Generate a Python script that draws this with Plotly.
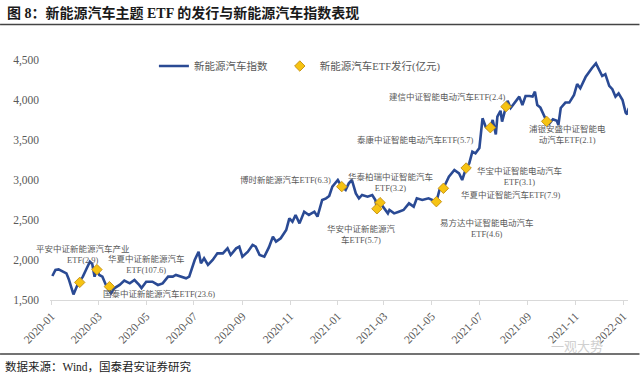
import plotly.graph_objects as go

# ---- data ----
index_dates = [
    "2020-01-02","2020-01-06","2020-01-10","2020-01-15","2020-01-20","2020-01-23","2020-01-29",
    "2020-02-04","2020-02-10","2020-02-15","2020-02-19","2020-02-22","2020-02-25","2020-02-28",
    "2020-03-02","2020-03-06","2020-03-11","2020-03-17","2020-03-21","2020-03-28","2020-04-03",
    "2020-04-10","2020-04-16","2020-04-22","2020-04-25","2020-05-01","2020-05-09","2020-05-16",
    "2020-05-22","2020-05-29","2020-06-04","2020-06-08","2020-06-15","2020-06-21","2020-06-25",
    "2020-07-02","2020-07-07","2020-07-10","2020-07-14","2020-07-19","2020-07-25","2020-07-31",
    "2020-08-07","2020-08-13","2020-08-17","2020-08-24","2020-08-28","2020-09-01","2020-09-08",
    "2020-09-14","2020-09-18","2020-09-23","2020-09-29","2020-10-05","2020-10-10","2020-10-14",
    "2020-10-20","2020-10-27","2020-10-31","2020-11-04","2020-11-08","2020-11-13","2020-11-19",
    "2020-11-25","2020-12-02","2020-12-06","2020-12-12","2020-12-17","2020-12-21","2020-12-25",
    "2021-01-01","2021-01-06","2021-01-11","2021-01-15","2021-01-19","2021-01-24","2021-01-28",
    "2021-02-01","2021-02-08","2021-02-14","2021-02-18","2021-02-20","2021-02-24","2021-03-01",
    "2021-03-06","2021-03-08","2021-03-14","2021-03-20","2021-03-26","2021-04-02","2021-04-08",
    "2021-04-12","2021-04-19","2021-04-27","2021-05-07","2021-05-11","2021-05-16","2021-05-23",
    "2021-05-30","2021-06-05","2021-06-09","2021-06-14","2021-06-18","2021-06-22","2021-06-26",
    "2021-07-01","2021-07-05","2021-07-09","2021-07-12","2021-07-15","2021-07-18","2021-07-22",
    "2021-07-24","2021-07-28","2021-07-30","2021-08-04","2021-08-06","2021-08-10","2021-08-17",
    "2021-08-21","2021-08-25","2021-08-29","2021-09-03","2021-09-07","2021-09-10","2021-09-13",
    "2021-09-17","2021-09-22","2021-09-25","2021-09-28","2021-10-03","2021-10-08","2021-10-10",
    "2021-10-13","2021-10-19","2021-10-24","2021-10-30","2021-11-03","2021-11-07","2021-11-14",
    "2021-11-18","2021-11-22","2021-11-27","2021-12-01","2021-12-05","2021-12-09","2021-12-14",
    "2021-12-18","2021-12-22","2021-12-26","2021-12-31","2022-01-04","2022-01-06","2022-01-08",
]
index_values = [
    1800,1875,1883,1855,1833,1760,1570,
    1708,1792,1896,1979,1950,1792,1875,
    1813,1792,1675,1583,1646,1688,1742,
    1708,1750,1688,1650,1729,1729,1688,
    1708,1792,1792,1813,1792,1771,1792,
    2000,2104,1958,2021,1938,2000,2083,
    2083,2146,2063,2146,2167,2042,2104,
    2188,2167,2063,2042,2160,2292,2229,
    2271,2375,2521,2479,2563,2458,2604,
    2563,2604,2542,2750,2771,2800,2917,
    3000,2917,2875,2958,3000,2833,2771,
    2813,2792,2813,2750,2640,2717,2646,
    2583,2625,2583,2604,2625,2708,2667,
    2771,2750,2771,2729,2875,2896,3042,
    3125,3083,3000,3150,3208,3354,3333,
    3400,3771,3667,3640,3654,3750,3570,
    3792,3865,3729,3917,3990,3900,4000,
    4042,3938,4050,4050,4042,4104,3938,
    3905,3800,3733,3700,3760,3740,3688,
    3900,3968,3968,4063,4200,4146,4292,
    4354,4400,4458,4385,4300,4323,4177,
    4135,4042,4083,4000,3843,3820,3900,
]

etf_dates = ["2020-02-06","2020-02-28","2020-03-15","2021-01-06","2021-02-24","2021-02-20",
             "2021-05-07","2021-05-16","2021-06-14","2021-07-15","2021-08-04","2021-09-25"]
etf_values = [1720,1880,1667,2917,2717,2640,2729,2896,3150,3654,3917,3733]

label_texts = [
    "平安中证新能源汽车产业<br>ETF(2.9)",
    "华夏中证新能源汽车<br>ETF(107.6)",
    "国泰中证新能源汽车ETF(23.6)",
    "博时新能源汽车ETF(6.3)",
    "华泰柏瑞中证智能汽车<br>ETF(3.2)",
    "华安中证新能源汽<br>车ETF(5.7)",
    "易方达中证智能电动汽车<br>ETF(4.6)",
    "华夏中证智能汽车ETF(7.9)",
    "华宝中证智能电动汽车<br>ETF(3.1)",
    "泰康中证智能电动汽车ETF(5.7)",
    "建信中证智能电动汽车ETF(2.4)",
    "浦银安盛中证智能电<br>动汽车ETF(2.1)",
]
label_dates = ["2020-02-10","2020-05-01","2020-05-17","2020-10-26","2021-03-09","2021-01-31",
               "2021-07-11","2021-08-11","2021-08-21","2021-04-10","2021-05-21","2021-10-22"]
label_values = [2069,1938,1575,3000,2975,2325,2394,2812,3044,3500,4041,3569]

tick_dates = ["2020-01-01","2020-03-01","2020-05-01","2020-07-01","2020-09-01","2020-11-01",
              "2021-01-01","2021-03-01","2021-05-01","2021-07-01","2021-09-01","2021-11-01","2022-01-01"]
tick_labels = ["2020-01","2020-03","2020-05","2020-07","2020-09","2020-11",
               "2021-01","2021-03","2021-05","2021-07","2021-09","2021-11","2022-01"]
y_ticks = [1500, 2000, 2500, 3000, 3500, 4000, 4500]

# ---- layout helpers (pixel -> paper) ----
L, R, T, B = 50, 628.5, 60, 300
def px(x):
    return (x - L) / (R - L)
def py(y):
    return (B - y) / (B - T)

FONT = "Liberation Serif, Noto Sans CJK SC, serif"
GRAY = "#595959"

fig = go.Figure()
fig.add_trace(go.Scatter(
    x=index_dates, y=index_values, mode="lines", name="新能源汽车指数",
    line=dict(color="#2A4A94", width=2.6), legend="legend",
))
fig.add_trace(go.Scatter(
    x=etf_dates, y=etf_values, mode="markers", name="新能源汽车ETF发行(亿元)",
    marker=dict(symbol="diamond", size=8, color="#F6C312", line=dict(color="#C9961A", width=1)),
    legend="legend2",
))

annotations = []
for t, d, v in zip(label_texts, label_dates, label_values):
    annotations.append(dict(x=d, y=v, xref="x", yref="y", text=t, showarrow=False,
                            font=dict(family=FONT, size=8.5, color=GRAY),
                            align="center", xanchor="center", yanchor="middle"))

annotations.append(dict(x=px(5), y=py(13), xref="paper", yref="paper",
                        text="<b>图 8：新能源汽车主题 ETF 的发行与新能源汽车指数表现</b>",
                        showarrow=False, xanchor="left", yanchor="middle",
                        font=dict(family=FONT, size=14, color="#1a1a1a")))
annotations.append(dict(x=px(3), y=py(366), xref="paper", yref="paper",
                        text="数据来源：Wind，国泰君安证券研究",
                        showarrow=False, xanchor="left", yanchor="middle",
                        font=dict(family=FONT, size=11.5, color="#222222")))
annotations.append(dict(x=px(605), y=py(346), xref="paper", yref="paper",
                        text="一观大势", showarrow=False, xanchor="right", yanchor="middle",
                        font=dict(family=FONT, size=13, color="#d0d0d0")))

shapes = [
    dict(type="line", xref="paper", yref="paper", x0=px(0), x1=px(640), y0=py(24.5), y1=py(24.5),
         line=dict(color="#444444", width=1.5)),
    dict(type="line", xref="paper", yref="paper", x0=px(0), x1=px(640), y0=py(354), y1=py(354),
         line=dict(color="#444444", width=1.5)),
]

legend_style = dict(orientation="h", yanchor="middle", xanchor="left",
                    font=dict(family=FONT, size=10.5, color=GRAY), bgcolor="rgba(0,0,0,0)")

fig.update_layout(
    width=640, height=376, autosize=False,
    margin=dict(l=L, r=640 - R, t=T, b=376 - B, pad=0),
    paper_bgcolor="white", plot_bgcolor="white",
    font=dict(family=FONT, color=GRAY),
    showlegend=True,
    legend=dict(x=px(154), y=py(66), **legend_style),
    legend2=dict(x=px(280), y=py(66), **legend_style),
    annotations=annotations, shapes=shapes,
    xaxis=dict(type="date", range=["2019-12-30", "2022-01-07"], automargin=False,
               tickvals=tick_dates, ticktext=tick_labels, tickangle=-45,
               showgrid=False, zeroline=False, showline=True, linecolor="#d9d9d9", linewidth=1,
               ticks="outside", ticklen=4, tickcolor="#d9d9d9",
               tickfont=dict(family=FONT, size=11.5, color=GRAY)),
    yaxis=dict(range=[1500, 4500], tickvals=y_ticks, tickformat=",", automargin=False,
               showgrid=False, zeroline=False, showline=False, ticks="",
               ticklabelstandoff=10,
               tickfont=dict(family=FONT, size=11.5, color=GRAY)),
)

fig.write_html("out.html", config={"displayModeBar": False},
               post_script="document.body.style.margin='0';")
